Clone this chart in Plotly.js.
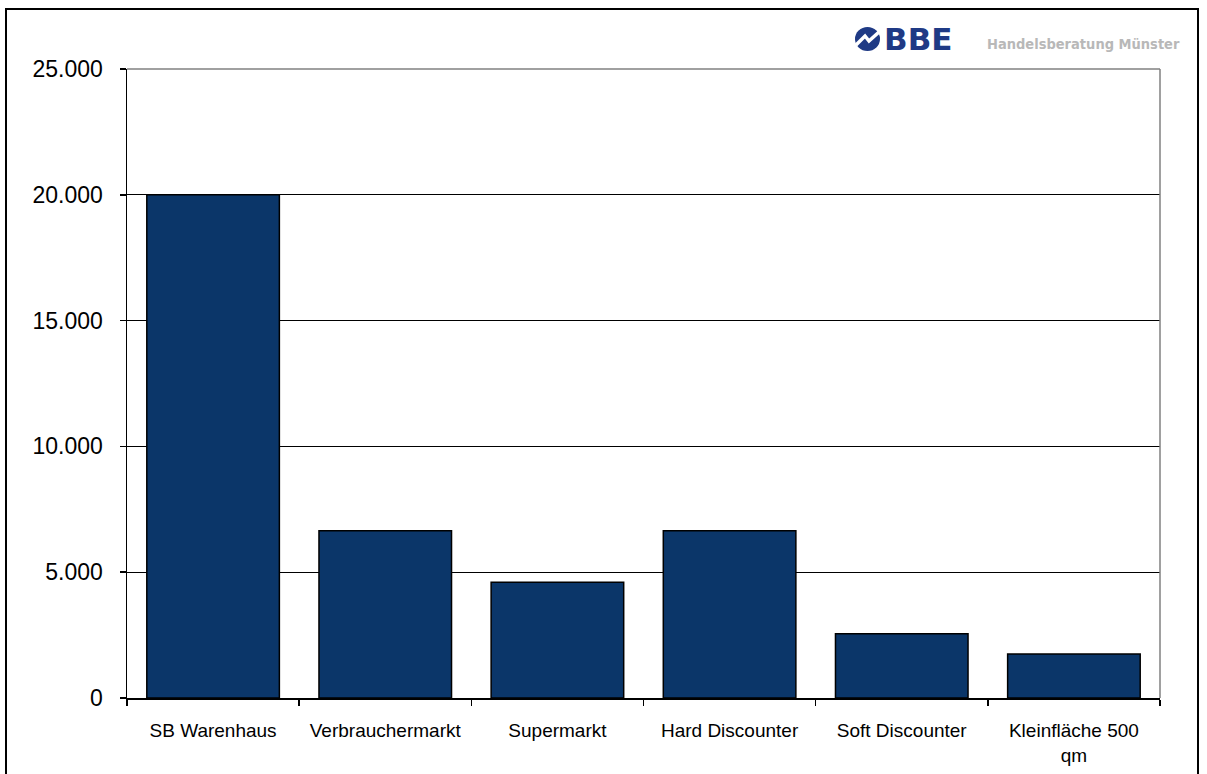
<!DOCTYPE html>
<html><head><meta charset="utf-8">
<script src="https://cdn.plot.ly/plotly-3.0.1.min.js"></script>
<style>html,body{margin:0;padding:0;background:#fff}#chart{width:1207px;height:774px}</style>
</head><body><div id="chart"></div>
<script>
const categories = ["SB Warenhaus", "Verbrauchermarkt", "Supermarkt", "Hard Discounter", "Soft Discounter", "Kleinfläche 500<br>qm"];
const values = [20000, 6650, 4600, 6650, 2550, 1750];
const yTicks = [0, 5000, 10000, 15000, 20000, 25000];

const trace = {
  type: 'bar', x: categories, y: values,
  marker: {color: '#0B3669', line: {color: '#000', width: 1.5}},
  hoverinfo: 'x+y'
};
const PX = 1033, PY = 629;
const px = v => (v - 127) / PX, py = v => (698 - v) / PY;
const layout = {
  width: 1207, height: 774,
  margin: {l: 127, r: 47, t: 69, b: 76},
  paper_bgcolor: '#fff', plot_bgcolor: '#fff',
  separators: ',.',
  bargap: 0.23,
  showlegend: false,
  font: {family: 'Liberation Sans, Arial, sans-serif', color: '#000'},
  xaxis: {
    showline: true, linecolor: '#000', linewidth: 2,
    ticks: 'outside', tickson: 'boundaries', ticklen: 6, tickcolor: '#000', tickwidth: 1.5,
    tickfont: {size: 19, color: '#000'}, ticklabelstandoff: 14,
    showgrid: false, fixedrange: true
  },
  yaxis: {
    range: [0, 25000], tickvals: yTicks, tickformat: ',d',
    showline: true, linecolor: '#000', linewidth: 1.5,
    ticks: 'outside', ticklen: 6, tickcolor: '#000', tickwidth: 1.5,
    tickfont: {size: 23, color: '#000'}, ticklabelstandoff: 12,
    showgrid: true, gridcolor: '#000', gridwidth: 1, zeroline: false, fixedrange: true
  },
  shapes: [
    {type: 'line', xref: 'paper', yref: 'paper', x0: 0, x1: 1, y0: 1, y1: 1, line: {color: '#808080', width: 1.5}},
    {type: 'line', xref: 'paper', yref: 'paper', x0: 1, x1: 1, y0: 0, y1: 1, line: {color: '#808080', width: 1.5}},
    {type: 'rect', xref: 'paper', yref: 'paper', x0: px(6), x1: px(1198), y0: py(9), y1: py(790), line: {color: '#000', width: 2}, fillcolor: 'rgba(0,0,0,0)', layer: 'below'},
    {type: 'circle', xref: 'paper', yref: 'paper', x0: px(855), x1: px(880), y0: py(51), y1: py(27), fillcolor: '#1F3A85', line: {width: 0}},
    {type: 'path', xref: 'paper', yref: 'paper', path: `M ${px(856)} ${py(45)} L ${px(865)} ${py(36)} L ${px(869)} ${py(41)} L ${px(879)} ${py(32)}`, line: {color: '#fff', width: 3.5}}
  ],
  annotations: [
    {xref: 'paper', yref: 'paper', x: px(882), y: py(39), xanchor: 'left', yanchor: 'middle', showarrow: false,
     text: '<b>BBE</b>', font: {family: 'DejaVu Sans, Arial Black, sans-serif', size: 31, color: '#1F3A85'}},
    {xref: 'paper', yref: 'paper', x: px(985), y: py(44), xanchor: 'left', yanchor: 'middle', showarrow: false,
     text: '<b>Handelsberatung Münster</b>', font: {family: 'DejaVu Sans Condensed, Liberation Sans Narrow, sans-serif', size: 14.5, color: '#B8B8B8'}}
  ]
};
Plotly.newPlot('chart', [trace], layout, {displayModeBar: false, staticPlot: true});
</script></body></html>
